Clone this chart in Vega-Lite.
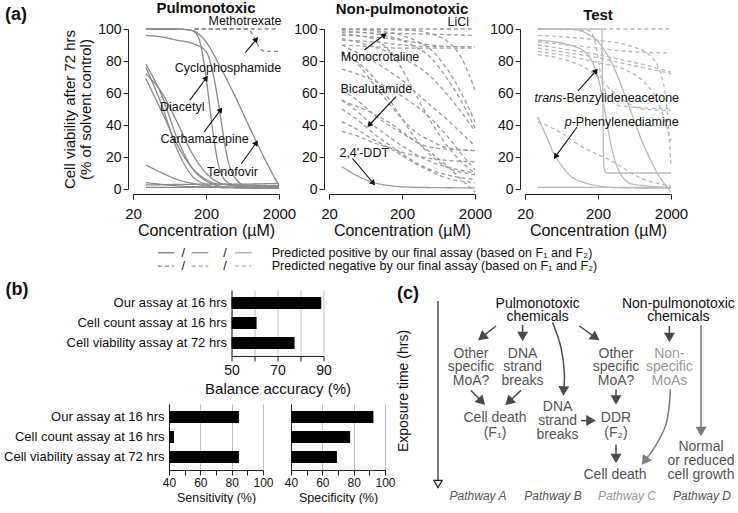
{
  "$schema": "https://vega.github.io/schema/vega-lite/v6.json",
  "padding": {"left": 2, "top": 0, "right": 0, "bottom": 0},
  "config": {
    "font": "Liberation Sans",
    "view": {"stroke": null},
    "axis": {"domainColor": "#222", "tickColor": "#222", "labelColor": "#111", "titleColor": "#111", "titleFontWeight": "normal", "grid": false},
    "title": {"color": "#111"}
  },
  "title": {"text": "(a)", "anchor": "start", "fontSize": 18, "fontWeight": "bold", "offset": -23, "dx": 3},
  "datasets": {
    "curves": [
      {"g": "P", "id": "P1", "p": "pos", "x": [30, 80, 130, 160, 200, 250, 300, 400, 600, 1000, 2000], "y": [100, 100, 99, 94, 70, 35, 14, 4, 1.5, 1, 1]},
      {"g": "P", "id": "P2", "p": "pos", "x": [30, 50, 80, 130, 200, 250, 300, 350, 400, 500, 700, 2000], "y": [96, 95, 93, 91, 86, 72, 52, 32, 18, 7, 2, 1]},
      {"g": "P", "id": "P3", "p": "pos", "x": [30, 80, 130, 200, 300, 500, 800, 1300, 2000], "y": [100, 100, 99, 92, 78, 58, 38, 18, 2]},
      {"g": "P", "id": "P4", "p": "pos", "x": [30, 50, 80, 130, 200, 300, 500, 2000], "y": [78, 58, 32, 13, 5, 2, 1, 1]},
      {"g": "P", "id": "P5", "p": "pos", "x": [30, 50, 80, 130, 200, 300, 2000], "y": [76, 52, 25, 8, 3, 1, 0.5]},
      {"g": "P", "id": "P6", "p": "pos", "x": [30, 50, 80, 130, 200, 300, 500, 2000], "y": [72, 60, 42, 22, 10, 4, 2, 1.5]},
      {"g": "P", "id": "P7", "p": "pos", "x": [30, 50, 80, 130, 200, 300, 2000], "y": [69, 48, 28, 13, 6, 3, 2]},
      {"g": "P", "id": "P8", "p": "pos", "x": [30, 50, 80, 130, 200, 500, 2000], "y": [15, 10, 6, 3.5, 2, 1, 0.8]},
      {"g": "P", "id": "P9", "p": "pos", "x": [30, 80, 200, 2000], "y": [4, 2, 1.2, 0.5]},
      {"g": "P", "id": "P10", "p": "pos", "x": [30, 2000], "y": [1, 1]},
      {"g": "P", "id": "P11", "p": "pos", "x": [30, 200, 500, 2000], "y": [2.5, 3, 3, 3.5]},
      {"g": "P", "id": "PD1", "p": "neg", "x": [140, 2000], "y": [100, 100]},
      {"g": "P", "id": "PD2", "p": "neg", "x": [140, 700, 800, 900, 1000, 1150, 1300, 2000], "y": [100, 100, 99, 95, 91, 87, 86, 86]},
      {"g": "N", "id": "N1", "p": "neg", "x": [30, 2000], "y": [100, 100]},
      {"g": "N", "id": "N2", "p": "neg", "x": [30, 300, 2000], "y": [98, 97, 96]},
      {"g": "N", "id": "N3", "p": "neg", "x": [30, 80, 200, 500, 1000, 2000], "y": [96, 95, 93, 90, 89, 89]},
      {"g": "N", "id": "N4", "p": "neg", "x": [30, 80, 200, 500, 1000, 2000], "y": [93, 92, 90, 89, 89, 89]},
      {"g": "N", "id": "N5", "p": "neg", "x": [30, 80, 200, 500, 1000, 2000], "y": [90, 89, 88, 88, 88, 88]},
      {"g": "N", "id": "N6", "p": "neg", "x": [30, 80, 200, 300, 500, 800, 1300, 2000], "y": [99, 97, 93, 89, 82, 70, 55, 38]},
      {"g": "N", "id": "N7", "p": "neg", "x": [30, 50, 80, 130, 200, 300, 500, 800, 1300, 2000], "y": [90, 85, 80, 74, 68, 61, 52, 44, 35, 27]},
      {"g": "N", "id": "N8", "p": "neg", "x": [30, 50, 80, 130, 200, 300, 500, 800, 2000], "y": [86, 78, 66, 54, 44, 36, 30, 26, 24]},
      {"g": "N", "id": "N9", "p": "neg", "x": [30, 80, 200, 300, 500, 800, 1300, 2000], "y": [100, 99, 96, 93, 87, 76, 60, 42]},
      {"g": "N", "id": "N10", "p": "neg", "x": [30, 50, 80, 130, 200, 300, 500, 2000], "y": [62, 55, 47, 40, 35, 30, 26, 24]},
      {"g": "N", "id": "N11", "p": "neg", "x": [30, 50, 80, 130, 200, 300, 500, 800, 2000], "y": [56, 48, 40, 33, 27, 22, 17, 14, 10]},
      {"g": "N", "id": "N12", "p": "neg", "x": [30, 50, 80, 130, 200, 300, 500, 800, 2000], "y": [50, 43, 35, 28, 22, 17, 12, 9, 6]},
      {"g": "N", "id": "N13", "p": "neg", "x": [30, 50, 80, 130, 200, 300, 500, 800, 2000], "y": [42, 37, 31, 26, 21, 16, 11, 7, 4]},
      {"g": "N", "id": "N14", "p": "neg", "x": [30, 50, 80, 130, 200, 500, 2000], "y": [36, 33, 29, 26, 23, 19, 17]},
      {"g": "N", "id": "N15", "p": "neg", "x": [30, 50, 80, 130, 200, 300, 500, 800, 2000], "y": [84, 79, 70, 57, 44, 32, 21, 14, 9]},
      {"g": "N", "id": "N16", "p": "neg", "x": [30, 80, 130, 200, 300, 500, 800, 1300, 2000], "y": [97, 94, 87, 75, 60, 42, 28, 17, 10]},
      {"g": "N", "id": "N17", "p": "neg", "x": [30, 80, 200, 500, 800, 1300, 2000], "y": [94, 89, 82, 70, 60, 48, 36]},
      {"g": "N", "id": "N18", "p": "neg", "x": [30, 300, 500, 800, 1300, 2000], "y": [100, 99, 97, 93, 82, 62]},
      {"g": "N", "id": "N19", "p": "neg", "x": [30, 80, 200, 500, 800, 1300, 2000], "y": [75, 68, 58, 44, 34, 22, 12]},
      {"g": "N", "id": "N20", "p": "neg", "x": [30, 100, 300, 800, 1300, 2000], "y": [55, 45, 30, 15, 6, -2]},
      {"g": "N", "id": "NDDT", "p": "pos", "x": [30, 50, 80, 130, 200, 500, 2000], "y": [14, 8, 4.2, 2.2, 1.4, 0.9, 0.7]},
      {"g": "T", "id": "T1", "p": "pos", "x": [30, 225, 232, 240, 260, 2000], "y": [100, 100, 60, 14, 10, 10]},
      {"g": "T", "id": "T2", "p": "pos", "x": [30, 50, 80, 130, 160, 200, 250, 300, 400, 600, 2000], "y": [93, 92, 90, 86, 81, 70, 48, 28, 10, 3, 1]},
      {"g": "T", "id": "T3", "p": "pos", "x": [30, 80, 130, 200, 300, 500, 800, 1300, 2000], "y": [100, 100, 98, 92, 80, 55, 30, 10, -2]},
      {"g": "T", "id": "T4", "p": "pos", "x": [30, 40, 50, 65, 80, 130, 200, 300, 500, 2000], "y": [45, 32, 22, 14, 9, 4, 2, 1, 0.7, 0.5]},
      {"g": "T", "id": "T5", "p": "pos", "x": [30, 2000], "y": [1, 1]},
      {"g": "T", "id": "TD1", "p": "neg", "x": [230, 2000], "y": [100, 100]},
      {"g": "T", "id": "TD2", "p": "neg", "x": [30, 80, 200, 500, 2000], "y": [92, 90, 88, 86, 85]},
      {"g": "T", "id": "TD3", "p": "neg", "x": [30, 80, 200, 500, 800, 2000], "y": [90, 87, 84, 80, 78, 73]},
      {"g": "T", "id": "TD4", "p": "neg", "x": [30, 80, 200, 500, 800, 1300, 2000], "y": [88, 85, 82, 78, 76, 74, 72]},
      {"g": "T", "id": "TD5", "p": "neg", "x": [30, 80, 200, 500, 800, 1300, 2000], "y": [86, 83, 79, 74, 68, 55, 30]},
      {"g": "T", "id": "TD6", "p": "neg", "x": [30, 80, 130, 200, 300, 500, 800, 2000], "y": [84, 80, 76, 70, 62, 54, 50, 49]},
      {"g": "T", "id": "TD7", "p": "neg", "x": [30, 53, 125, 293, 853, 2000], "y": [42, 37, 26, 18, 6, 2]},
      {"g": "T", "id": "TD8", "p": "neg", "x": [30, 150, 180, 200, 220, 260, 400, 2000], "y": [100, 99, 93, 82, 70, 60, 52, 50]},
      {"g": "T", "id": "TD9", "p": "neg", "x": [30, 200, 500, 1000, 1500, 1800, 2000], "y": [96, 93, 90, 84, 70, 45, 15]}
    ],
    "ann": [
      {"g": "P", "part": "c", "t": "Methotrexate", "x": 684, "y": 105},
      {"g": "P", "part": "c", "t": "Cyclophosphamide", "x": 400, "y": 75.4},
      {"g": "P", "part": "c", "t": "Diacetyl", "x": 94.7, "y": 51.5},
      {"g": "P", "part": "c", "t": "Carbamazepine", "x": 191, "y": 31},
      {"g": "P", "part": "c", "t": "Tenofovir", "x": 461, "y": 10.8},
      {"g": "N", "part": "c", "t": "LiCl", "x": 1178, "y": 104.6},
      {"g": "N", "part": "c", "t": "Monocrotaline", "x": 100, "y": 82.3},
      {"g": "N", "part": "c", "t": "Bicalutamide", "x": 89, "y": 62.3},
      {"g": "N", "part": "c", "t": "2,4'-DDT", "x": 60.8, "y": 22.7},
      {"g": "T", "part": "r", "t": "trans", "x": 64.9, "y": 56.7},
      {"g": "T", "part": "l", "t": "-Benzylideneacetone", "x": 64.9, "y": 56.7},
      {"g": "T", "part": "r", "t": "p", "x": 87.1, "y": 42},
      {"g": "T", "part": "l", "t": "-Phenylenediamine", "x": 87.1, "y": 42}
    ],
    "arr": [
      {"g": "P", "fx": 690, "fy": 85.2, "x": 977, "y": 93.6},
      {"g": "P", "fx": 119.6, "fy": 55.4, "x": 201.8, "y": 69.4},
      {"g": "P", "fx": 188.6, "fy": 35.6, "x": 318, "y": 49.6},
      {"g": "P", "fx": 609, "fy": 15.8, "x": 977, "y": 28.9},
      {"g": "N", "fx": 60.8, "fy": 86.9, "x": 114.7, "y": 96.3},
      {"g": "N", "fx": 166, "fy": 57.7, "x": 71.3, "y": 40},
      {"g": "N", "fx": 41.9, "fy": 19.2, "x": 80.9, "y": 3.6},
      {"g": "T", "fx": 106.6, "fy": 61.4, "x": 187.7, "y": 73.9},
      {"g": "T", "fx": 103, "fy": 38.6, "x": 52.2, "y": 20.2}
    ],
    "legS": [
      {"g": "P", "p": "pos", "x": 15.6, "x2": 17.2},
      {"g": "N", "p": "pos", "x": 18.97, "x2": 20.63},
      {"g": "T", "p": "pos", "x": 23.3, "x2": 24.97},
      {"g": "P", "p": "neg", "x": 15.6, "x2": 17.2},
      {"g": "N", "p": "neg", "x": 18.97, "x2": 20.63},
      {"g": "T", "p": "neg", "x": 23.3, "x2": 24.97}
    ],
    "legT": [
      {"r": "slash", "p": "pos", "x": 18.13, "t": "/"},
      {"r": "slash", "p": "pos", "x": 22.3, "t": "/"},
      {"r": "slash", "p": "neg", "x": 18.13, "t": "/"},
      {"r": "slash", "p": "neg", "x": 22.3, "t": "/"},
      {"r": "label", "p": "pos", "x": 26.97, "t": "Predicted positive by our final assay (based on F₁ and F₂)"},
      {"r": "label", "p": "neg", "x": 26.97, "t": "Predicted negative by our final assay (based on F₁ and F₂)"}
    ],
    "bars": [
      {"m": "bal", "a": "Our assay at 16 hrs", "v": 89},
      {"m": "bal", "a": "Cell count assay at 16 hrs", "v": 60.9},
      {"m": "bal", "a": "Cell viability assay at 72 hrs", "v": 77.4},
      {"m": "sen", "a": "Our assay at 16 hrs", "v": 84.6},
      {"m": "sen", "a": "Cell count assay at 16 hrs", "v": 43.2},
      {"m": "sen", "a": "Cell viability assay at 72 hrs", "v": 84.6},
      {"m": "spe", "a": "Our assay at 16 hrs", "v": 92.6},
      {"m": "spe", "a": "Cell count assay at 16 hrs", "v": 77.8},
      {"m": "spe", "a": "Cell viability assay at 72 hrs", "v": 69.3}
    ],
    "dtext": [
      {"t": "Pulmonotoxic", "x": 49.8, "y": 4.2, "k": "src"},
      {"t": "chemicals", "x": 49.8, "y": 10.5, "k": "src"},
      {"t": "Non-pulmonotoxic", "x": 120.2, "y": 4.2, "k": "src"},
      {"t": "chemicals", "x": 120.2, "y": 10.5, "k": "src"},
      {"t": "Other", "x": 16.5, "y": 28.8, "k": "path"},
      {"t": "specific", "x": 16.5, "y": 35.6, "k": "path"},
      {"t": "MoA?", "x": 16.5, "y": 42.4, "k": "path"},
      {"t": "DNA", "x": 42.3, "y": 28.8, "k": "path"},
      {"t": "strand", "x": 42.3, "y": 35.6, "k": "path"},
      {"t": "breaks", "x": 42.3, "y": 42.4, "k": "path"},
      {"t": "Cell death", "x": 28.5, "y": 61.2, "k": "path"},
      {"t": "(F₁)", "x": 28.5, "y": 68.3, "k": "path"},
      {"t": "DNA", "x": 59.8, "y": 55.4, "k": "path"},
      {"t": "strand", "x": 59.8, "y": 62.5, "k": "path"},
      {"t": "breaks", "x": 59.8, "y": 69.6, "k": "path"},
      {"t": "Other", "x": 89, "y": 28.8, "k": "path"},
      {"t": "specific", "x": 89, "y": 35.6, "k": "path"},
      {"t": "MoA?", "x": 89, "y": 42.4, "k": "path"},
      {"t": "DDR", "x": 89, "y": 61.2, "k": "path"},
      {"t": "(F₂)", "x": 89, "y": 68.3, "k": "path"},
      {"t": "Cell death", "x": 88.5, "y": 89.5, "k": "path"},
      {"t": "Non-", "x": 115.7, "y": 28.8, "k": "ns"},
      {"t": "specific", "x": 115.7, "y": 35.6, "k": "ns"},
      {"t": "MoAs", "x": 115.7, "y": 42.4, "k": "ns"},
      {"t": "Normal", "x": 131.5, "y": 75.5, "k": "path"},
      {"t": "or reduced", "x": 131.5, "y": 82.5, "k": "path"},
      {"t": "cell growth", "x": 131.5, "y": 89.5, "k": "path"}
    ],
    "dpath": [
      {"t": "Pathway A", "x": 20, "y": 100, "k": "path"},
      {"t": "Pathway B", "x": 57.5, "y": 100, "k": "path"},
      {"t": "Pathway C", "x": 94.5, "y": 100, "k": "ns"},
      {"t": "Pathway D", "x": 132, "y": 100, "k": "path"}
    ],
    "darr": [
      {"fx": 29, "fy": 15, "x": 21.9, "y": 20.6, "k": "dark", "cv": 0},
      {"fx": 42.3, "fy": 14.5, "x": 42.3, "y": 20.3, "k": "dark", "cv": 0},
      {"fx": 70.7, "fy": 15, "x": 78.8, "y": 20.8, "k": "dark", "cv": 0},
      {"fx": 115.7, "fy": 15, "x": 115.7, "y": 20.8, "k": "dark", "cv": 0},
      {"fx": 131.5, "fy": 14.5, "x": 131.5, "y": 67.8, "k": "light", "cv": 0},
      {"fx": 16.5, "fy": 47.2, "x": 21.9, "y": 52.8, "k": "dark", "cv": 0},
      {"fx": 41.5, "fy": 47.2, "x": 35.4, "y": 52.9, "k": "dark", "cv": 0},
      {"fx": 71.5, "fy": 62.3, "x": 76.5, "y": 62.3, "k": "dark", "cv": 0},
      {"fx": 89, "fy": 46.8, "x": 89, "y": 52, "k": "dark", "cv": 0},
      {"fx": 89, "fy": 74.2, "x": 89, "y": 81.2, "k": "dark", "cv": 0},
      {"fx": 63.2, "fy": 39.2, "x": 62.8, "y": 47.5, "k": "dark", "cv": 1},
      {"fx": 108.2, "fy": 75.8, "x": 103.3, "y": 82.5, "k": "light", "cv": 1}
    ],
    "dcurve": [
      {"id": "B", "k": "dark", "o": [0, 1, 2, 3], "x": [57.3, 61.5, 63.2, 62.8], "y": [13.3, 25.8, 39.2, 47.5]},
      {"id": "D", "k": "light", "o": [0, 1, 2, 3], "x": [116.2, 114, 108.2, 103.3], "y": [46.7, 64.2, 75.8, 82.5]}
    ],
    "dtime": [
      {"h": "0", "y": 7.2},
      {"h": "4", "y": 35.5},
      {"h": "16", "y": 63.3},
      {"h": "72", "y": 86.7}
    ],
    "dax": [
      {"x": 0, "y": 2.5, "y2": 92}
    ],
    "spacer": [
      {}
    ]
  },
  "spacing": 8,
  "vconcat": [
    {
      "hconcat": [
        {"width": 81, "height": 1, "data": {"name": "spacer"}, "mark": {"type": "point", "opacity": 0, "size": 1}, "encoding": {}},
        {
          "width": 146, "height": 160,
          "title": {"text": "Pulmonotoxic", "fontSize": 15, "fontWeight": "bold", "offset": -1},
          "encoding": {
            "x": {"field": "x", "type": "quantitative", "scale": {"type": "log", "domain": [20, 2000], "nice": false},
                  "axis": {"values": [20, 200, 2000], "format": "d", "labelFlush": false, "offset": 5, "tickSize": 5, "labelFontSize": 15, "labelPadding": 7, "title": "Concentration (µM)", "titleFontSize": 16, "titlePadding": 1}},
            "y": {"field": "y", "type": "quantitative", "scale": {"domain": [0, 100], "nice": false, "zero": false},
                  "axis": {"values": [0, 20, 40, 60, 80, 100], "offset": 5, "tickSize": 5, "labelPadding": 2, "labelFontSize": 14, "title": ["Cell viability after 72 hrs", "(% of solvent control)"], "titleFontSize": 15, "titleLineHeight": 16, "titlePadding": 4}}
          },
          "layer": [
            {"data": {"name": "curves"}, "transform": [{"filter": "datum.g == 'P'"}, {"flatten": ["x", "y"]}],
             "mark": {"type": "line", "interpolate": "monotone", "strokeWidth": 1.3},
             "encoding": {
               "color": {"field": "g", "type": "nominal", "scale": {"domain": ["P", "N", "T"], "range": ["#8a8a8a", "#9c9c9c", "#bababa"]}, "legend": null},
               "strokeDash": {"field": "p", "type": "nominal", "scale": {"domain": ["pos", "neg"], "range": [[1, 0], [4, 3]]}, "legend": null},
               "detail": {"field": "id"}}},
            {"data": {"name": "ann"}, "transform": [{"filter": "datum.g == 'P'"}],
             "mark": {"type": "text", "fontSize": 12.5, "color": "#111", "baseline": "middle"},
             "encoding": {"text": {"field": "t"}}},
            {"data": {"name": "arr"}, "transform": [{"filter": "datum.g == 'P'"}],
             "mark": {"type": "rule", "color": "#111", "strokeWidth": 1.1},
             "encoding": {"x2": {"field": "fx"}, "y2": {"field": "fy"}}},
            {"data": {"name": "arr"}, "transform": [{"filter": "datum.g == 'P'"}, {"calculate": "atan2((log(datum.x) - log(datum.fx)) / LN10 * 73, (datum.y - datum.fy) * 1.6) * 180 / PI", "as": "ang"}],
             "mark": {"type": "point", "shape": "triangle-up", "filled": true, "size": 40, "color": "#111", "opacity": 1},
             "encoding": {"angle": {"field": "ang", "type": "quantitative", "scale": null}}}
          ]
        },
        {
          "width": 146, "height": 160,
          "title": {"text": "Non-pulmonotoxic", "fontSize": 15, "fontWeight": "bold", "offset": -1},
          "encoding": {
            "x": {"field": "x", "type": "quantitative", "scale": {"type": "log", "domain": [20, 2000], "nice": false},
                  "axis": {"values": [20, 200, 2000], "format": "d", "labelFlush": false, "offset": 5, "tickSize": 5, "labelFontSize": 15, "labelPadding": 7, "title": "Concentration (µM)", "titleFontSize": 16, "titlePadding": 1}},
            "y": {"field": "y", "type": "quantitative", "scale": {"domain": [0, 100], "nice": false, "zero": false},
                  "axis": {"values": [0, 20, 40, 60, 80, 100], "offset": 5, "tickSize": 5, "labelPadding": 2, "labelFontSize": 14, "title": null}}
          },
          "layer": [
            {"data": {"name": "curves"}, "transform": [{"filter": "datum.g == 'N'"}, {"flatten": ["x", "y"]}],
             "mark": {"type": "line", "interpolate": "monotone", "strokeWidth": 1.3},
             "encoding": {
               "color": {"field": "g", "type": "nominal", "scale": {"domain": ["P", "N", "T"], "range": ["#8a8a8a", "#9c9c9c", "#bababa"]}, "legend": null},
               "strokeDash": {"field": "p", "type": "nominal", "scale": {"domain": ["pos", "neg"], "range": [[1, 0], [4, 3]]}, "legend": null},
               "detail": {"field": "id"}}},
            {"data": {"name": "ann"}, "transform": [{"filter": "datum.g == 'N'"}],
             "mark": {"type": "text", "fontSize": 12.5, "color": "#111", "baseline": "middle"},
             "encoding": {"text": {"field": "t"}}},
            {"data": {"name": "arr"}, "transform": [{"filter": "datum.g == 'N'"}],
             "mark": {"type": "rule", "color": "#111", "strokeWidth": 1.1},
             "encoding": {"x2": {"field": "fx"}, "y2": {"field": "fy"}}},
            {"data": {"name": "arr"}, "transform": [{"filter": "datum.g == 'N'"}, {"calculate": "atan2((log(datum.x) - log(datum.fx)) / LN10 * 73, (datum.y - datum.fy) * 1.6) * 180 / PI", "as": "ang"}],
             "mark": {"type": "point", "shape": "triangle-up", "filled": true, "size": 40, "color": "#111", "opacity": 1},
             "encoding": {"angle": {"field": "ang", "type": "quantitative", "scale": null}}}
          ]
        },
        {
          "width": 146, "height": 160,
          "title": {"text": "Test", "fontSize": 15, "fontWeight": "bold", "offset": -1},
          "encoding": {
            "x": {"field": "x", "type": "quantitative", "scale": {"type": "log", "domain": [20, 2000], "nice": false},
                  "axis": {"values": [20, 200, 2000], "format": "d", "labelFlush": false, "offset": 5, "tickSize": 5, "labelFontSize": 15, "labelPadding": 7, "title": "Concentration (µM)", "titleFontSize": 16, "titlePadding": 1}},
            "y": {"field": "y", "type": "quantitative", "scale": {"domain": [0, 100], "nice": false, "zero": false},
                  "axis": {"values": [0, 20, 40, 60, 80, 100], "offset": 5, "tickSize": 5, "labelPadding": 2, "labelFontSize": 14, "title": null}}
          },
          "layer": [
            {"data": {"name": "curves"}, "transform": [{"filter": "datum.g == 'T'"}, {"flatten": ["x", "y"]}],
             "mark": {"type": "line", "interpolate": "monotone", "strokeWidth": 1.3},
             "encoding": {
               "color": {"field": "g", "type": "nominal", "scale": {"domain": ["P", "N", "T"], "range": ["#8a8a8a", "#9c9c9c", "#bababa"]}, "legend": null},
               "strokeDash": {"field": "p", "type": "nominal", "scale": {"domain": ["pos", "neg"], "range": [[1, 0], [4, 3]]}, "legend": null},
               "detail": {"field": "id"}}},
            {"data": {"name": "ann"}, "transform": [{"filter": "datum.g == 'T' && datum.part == 'l'"}],
             "mark": {"type": "text", "fontSize": 12.5, "color": "#111", "baseline": "middle", "align": "left"},
             "encoding": {"text": {"field": "t"}}},
            {"data": {"name": "ann"}, "transform": [{"filter": "datum.g == 'T' && datum.part == 'r'"}],
             "mark": {"type": "text", "fontSize": 12.5, "color": "#111", "baseline": "middle", "align": "right", "fontStyle": "italic"},
             "encoding": {"text": {"field": "t"}}},
            {"data": {"name": "arr"}, "transform": [{"filter": "datum.g == 'T'"}],
             "mark": {"type": "rule", "color": "#111", "strokeWidth": 1.1},
             "encoding": {"x2": {"field": "fx"}, "y2": {"field": "fy"}}},
            {"data": {"name": "arr"}, "transform": [{"filter": "datum.g == 'T'"}, {"calculate": "atan2((log(datum.x) - log(datum.fx)) / LN10 * 73, (datum.y - datum.fy) * 1.6) * 180 / PI", "as": "ang"}],
             "mark": {"type": "point", "shape": "triangle-up", "filled": true, "size": 40, "color": "#111", "opacity": 1},
             "encoding": {"angle": {"field": "ang", "type": "quantitative", "scale": null}}}
          ]
        }
      ],
      "spacing": 50,
      "bounds": "flush"
    },
    {
      "width": 650, "height": 22,
      "encoding": {
        "x": {"field": "x", "type": "quantitative", "scale": {"domain": [0, 65], "nice": false, "zero": false}, "axis": null},
        "y": {"field": "p", "type": "nominal", "scale": {"type": "point", "domain": ["pos", "neg"], "padding": 0.327, "align": 0.2}, "axis": null}
      },
      "layer": [
        {"data": {"name": "legS"},
         "mark": {"type": "rule", "strokeWidth": 1.3},
         "encoding": {
           "x2": {"field": "x2"},
           "color": {"field": "g", "type": "nominal", "scale": {"domain": ["P", "N", "T"], "range": ["#8a8a8a", "#9c9c9c", "#bababa"]}, "legend": null},
           "strokeDash": {"field": "p", "type": "nominal", "scale": {"domain": ["pos", "neg"], "range": [[1, 0], [4, 3]]}, "legend": null}}},
        {"data": {"name": "legT"}, "transform": [{"filter": "datum.r == 'slash'"}],
         "mark": {"type": "text", "fontSize": 12.6, "color": "#111", "baseline": "middle", "align": "center"},
         "encoding": {"text": {"field": "t"}}},
        {"data": {"name": "legT"}, "transform": [{"filter": "datum.r == 'label'"}],
         "mark": {"type": "text", "fontSize": 12.6, "color": "#111", "baseline": "middle", "align": "left"},
         "encoding": {"text": {"field": "t"}}}
      ]
    },
    {
      "spacing": 0,
      "hconcat": [
        {"width": 1, "height": 1, "data": {"name": "spacer"}, "mark": {"type": "point", "opacity": 0, "size": 1}, "encoding": {}},
        {
          "spacing": -16,
          "hconcat": [
            {
              "title": {"text": "(b)", "anchor": "start", "fontSize": 18, "fontWeight": "bold", "offset": -9, "dx": 2},
              "center": true,
              "spacing": 8,
              "vconcat": [
                {
                  "width": 92, "height": 66,
                  "data": {"name": "bars"},
                  "transform": [{"filter": "datum.m == 'bal'"}],
                  "mark": {"type": "bar", "color": "#000"},
                  "encoding": {
                    "y": {"field": "a", "type": "nominal", "sort": ["Our assay at 16 hrs", "Cell count assay at 16 hrs", "Cell viability assay at 72 hrs"],
                          "scale": {"paddingInner": 0.4, "paddingOuter": 0.35},
                          "axis": {"title": null, "ticks": false, "labelFontSize": 13, "labelPadding": 5}},
                    "x": {"field": "v", "type": "quantitative", "scale": {"domain": [50, 90], "nice": false, "zero": false},
                          "axis": {"values": [50, 60, 70, 80, 90], "labelExpr": "datum.value % 20 == 10 ? datum.label : ''", "labelFlush": false, "grid": true, "gridColor": "#c4c4c4", "tickSize": 5, "labelFontSize": 14, "title": "Balance accuracy (%)", "titleFontSize": 15, "titlePadding": 4}},
                    "x2": {"datum": 50}
                  }
                },
                {
                  "spacing": 10,
                  "hconcat": [
                    {
                      "width": 94, "height": 66,
                      "data": {"name": "bars"},
                      "transform": [{"filter": "datum.m == 'sen'"}],
                      "mark": {"type": "bar", "color": "#000"},
                      "encoding": {
                        "y": {"field": "a", "type": "nominal", "sort": ["Our assay at 16 hrs", "Cell count assay at 16 hrs", "Cell viability assay at 72 hrs"],
                              "scale": {"paddingInner": 0.4, "paddingOuter": 0.35},
                              "axis": {"title": null, "ticks": false, "labelFontSize": 13, "labelPadding": 5}},
                        "x": {"field": "v", "type": "quantitative", "scale": {"domain": [40, 100], "nice": false, "zero": false},
                              "axis": {"values": [40, 50, 60, 70, 80, 90, 100], "labelExpr": "datum.value % 20 == 0 ? datum.label : ''", "labelFlush": false, "grid": true, "gridColor": "#c4c4c4", "gridOpacity": {"condition": {"test": "datum.value % 20 == 0", "value": 1}, "value": 0}, "tickSize": 5, "labelFontSize": 12, "title": "Sensitivity (%)", "titleFontSize": 12.5, "titlePadding": 3}},
                        "x2": {"datum": 40}
                      }
                    },
                    {
                      "width": 94, "height": 66,
                      "data": {"name": "bars"},
                      "transform": [{"filter": "datum.m == 'spe'"}],
                      "mark": {"type": "bar", "color": "#000"},
                      "encoding": {
                        "y": {"field": "a", "type": "nominal", "sort": ["Our assay at 16 hrs", "Cell count assay at 16 hrs", "Cell viability assay at 72 hrs"],
                              "scale": {"paddingInner": 0.4, "paddingOuter": 0.35},
                              "axis": {"title": null, "ticks": false, "labels": false}},
                        "x": {"field": "v", "type": "quantitative", "scale": {"domain": [40, 100], "nice": false, "zero": false},
                              "axis": {"values": [40, 50, 60, 70, 80, 90, 100], "labelExpr": "datum.value % 20 == 0 ? datum.label : ''", "labelFlush": false, "grid": true, "gridColor": "#c4c4c4", "gridOpacity": {"condition": {"test": "datum.value % 20 == 0", "value": 1}, "value": 0}, "tickSize": 5, "labelFontSize": 12, "title": "Specificity (%)", "titleFontSize": 12.5, "titlePadding": 3}},
                        "x2": {"datum": 40}
                      }
                    },
                    {"width": 7, "height": 1, "data": {"name": "spacer"}, "mark": {"type": "point", "opacity": 0, "size": 1}, "encoding": {}}
                  ]
                }
              ]
            },
            {
              "width": 300, "height": 206,
              "title": {"text": "(c)", "anchor": "start", "fontSize": 18, "fontWeight": "bold", "offset": -13},
              "encoding": {
                "x": {"field": "x", "type": "quantitative", "scale": {"domain": [0, 150], "nice": false, "zero": false}, "axis": null},
                "y": {"field": "y", "type": "quantitative", "scale": {"domain": [-3, 100], "nice": false, "zero": false, "reverse": true}, "axis": null}
              },
              "layer": [
                {"data": {"name": "dax"},
                 "mark": {"type": "rule", "color": "#222", "strokeWidth": 1.2},
                 "encoding": {"y2": {"field": "y2"}}},
                {"data": {"name": "dax"},
                 "mark": {"type": "point", "shape": "triangle-down", "filled": false, "size": 70, "color": "#222", "strokeWidth": 1.2, "opacity": 1},
                 "encoding": {"y": {"field": "y2", "type": "quantitative"}, "yOffset": {"value": 4}}},
                {"data": {"name": "dtime"},
                 "mark": {"type": "point", "shape": "stroke", "size": 100, "color": "#222", "strokeWidth": 1.2, "opacity": 1},
                 "encoding": {"x": {"datum": 0}}},
                {"data": {"name": "dtime"},
                 "mark": {"type": "text", "fontSize": 15, "color": "#111", "align": "right", "baseline": "middle"},
                 "encoding": {"x": {"datum": -4.5}, "text": {"field": "h"}}},
                {"data": {"name": "dax"},
                 "mark": {"type": "text", "fontSize": 14, "color": "#111", "align": "center", "baseline": "middle", "angle": 270},
                 "encoding": {"x": {"datum": -17}, "y": {"datum": 47.5}, "text": {"value": "Exposure time (hrs)"}}},
                {"data": {"name": "dtext"}, "transform": [{"filter": "datum.k == 'src'"}],
                 "mark": {"type": "text", "fontSize": 14, "align": "center", "baseline": "middle", "color": "#111"},
                 "encoding": {"text": {"field": "t"}}},
                {"data": {"name": "dtext"}, "transform": [{"filter": "datum.k == 'path'"}],
                 "mark": {"type": "text", "fontSize": 14, "align": "center", "baseline": "middle", "color": "#555"},
                 "encoding": {"text": {"field": "t"}}},
                {"data": {"name": "dtext"}, "transform": [{"filter": "datum.k == 'ns'"}],
                 "mark": {"type": "text", "fontSize": 14, "align": "center", "baseline": "middle", "color": "#999"},
                 "encoding": {"text": {"field": "t"}}},
                {"data": {"name": "dpath"}, "transform": [{"filter": "datum.k == 'path'"}],
                 "mark": {"type": "text", "fontSize": 12, "fontStyle": "italic", "align": "center", "baseline": "middle", "color": "#555"},
                 "encoding": {"text": {"field": "t"}}},
                {"data": {"name": "dpath"}, "transform": [{"filter": "datum.k == 'ns'"}],
                 "mark": {"type": "text", "fontSize": 12, "fontStyle": "italic", "align": "center", "baseline": "middle", "color": "#999"},
                 "encoding": {"text": {"field": "t"}}},
                {"data": {"name": "darr"}, "transform": [{"filter": "datum.cv == 0 && datum.k == 'dark'"}],
                 "mark": {"type": "rule", "strokeWidth": 1.5, "color": "#4a4a4a"},
                 "encoding": {"x2": {"field": "fx"}, "y2": {"field": "fy"}}},
                {"data": {"name": "darr"}, "transform": [{"filter": "datum.cv == 0 && datum.k == 'light'"}],
                 "mark": {"type": "rule", "strokeWidth": 1.5, "color": "#7a7a7a"},
                 "encoding": {"x2": {"field": "fx"}, "y2": {"field": "fy"}}},
                {"data": {"name": "dcurve"}, "transform": [{"filter": "datum.k == 'dark'"}, {"flatten": ["o", "x", "y"]}],
                 "mark": {"type": "line", "interpolate": "catmull-rom", "strokeWidth": 1.5, "color": "#4a4a4a"},
                 "encoding": {"order": {"field": "o", "type": "quantitative"}}},
                {"data": {"name": "dcurve"}, "transform": [{"filter": "datum.k == 'light'"}, {"flatten": ["o", "x", "y"]}],
                 "mark": {"type": "line", "interpolate": "catmull-rom", "strokeWidth": 1.5, "color": "#7a7a7a"},
                 "encoding": {"order": {"field": "o", "type": "quantitative"}}},
                {"data": {"name": "darr"}, "transform": [{"filter": "datum.k == 'dark'"}, {"calculate": "atan2(datum.x - datum.fx, -(datum.y - datum.fy)) * 180 / PI", "as": "ang"}],
                 "mark": {"type": "point", "shape": "triangle-up", "filled": true, "size": 120, "opacity": 1, "color": "#4a4a4a"},
                 "encoding": {"angle": {"field": "ang", "type": "quantitative", "scale": null}}},
                {"data": {"name": "darr"}, "transform": [{"filter": "datum.k == 'light'"}, {"calculate": "atan2(datum.x - datum.fx, -(datum.y - datum.fy)) * 180 / PI", "as": "ang"}],
                 "mark": {"type": "point", "shape": "triangle-up", "filled": true, "size": 120, "opacity": 1, "color": "#7a7a7a"},
                 "encoding": {"angle": {"field": "ang", "type": "quantitative", "scale": null}}}
              ]
            }
          ]
        }
      ]
    }
  ]
}
